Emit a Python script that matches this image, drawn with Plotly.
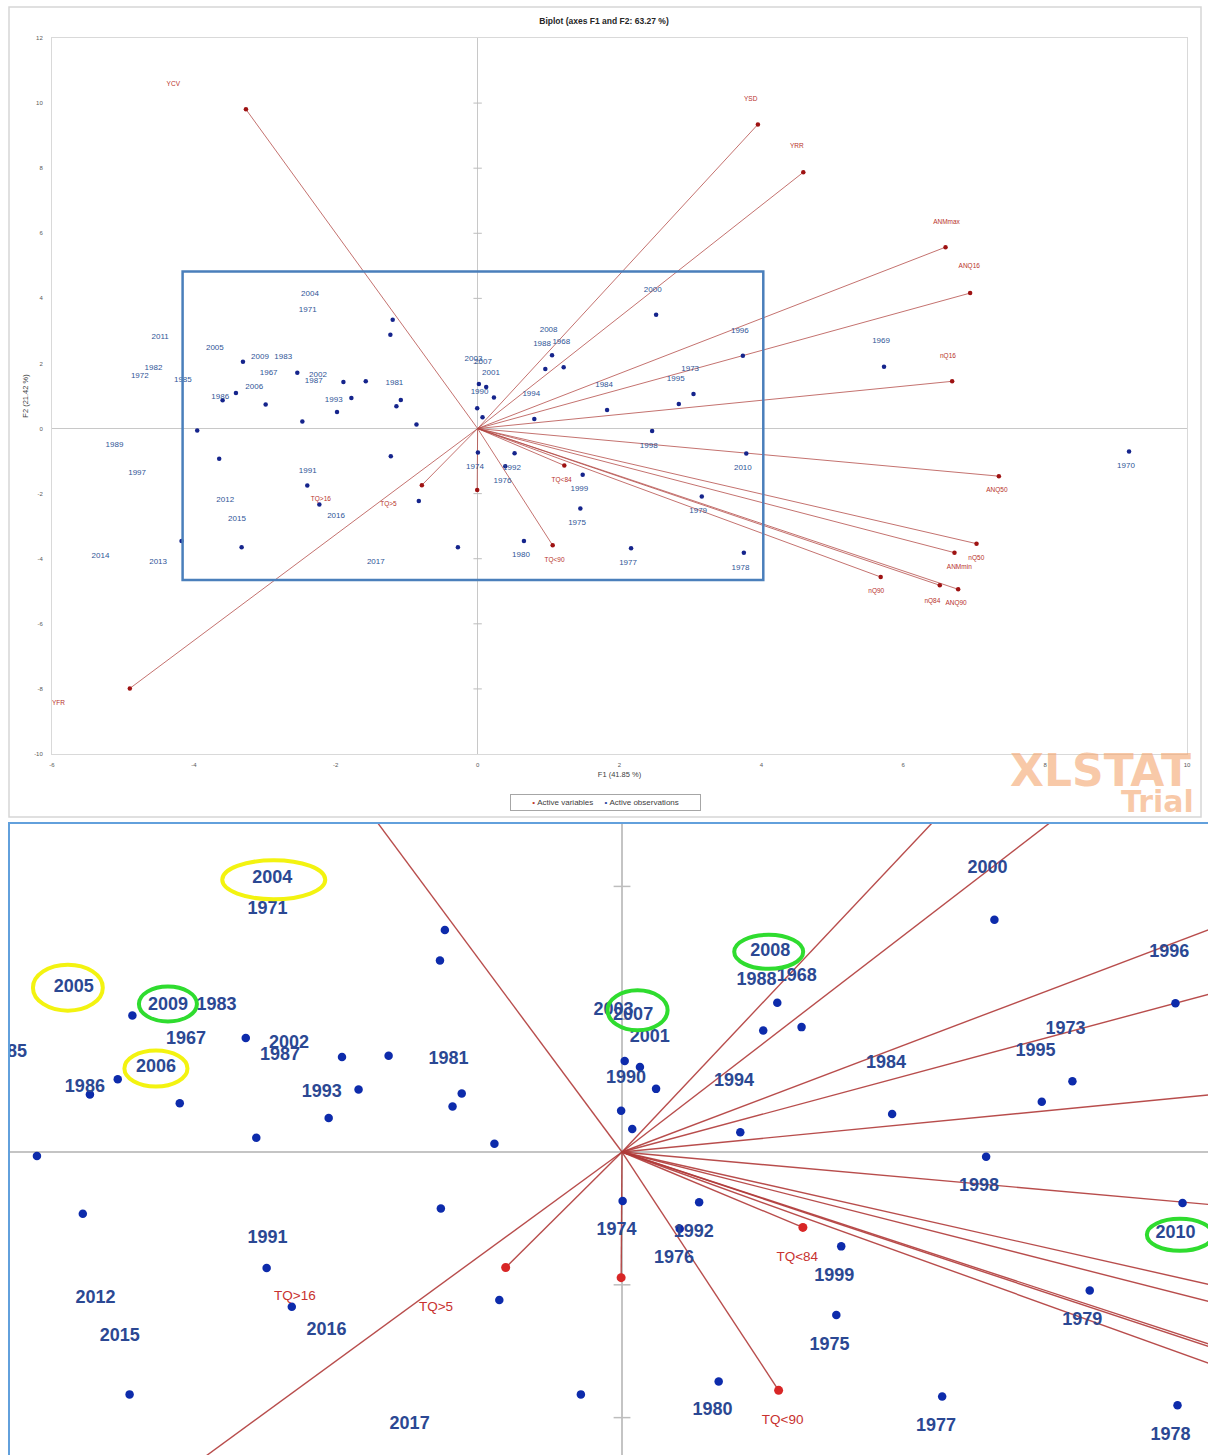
import plotly.graph_objects as go

W, H = 1208, 1455

# ---- Active observations: factor scores on F1 / F2 ----
obs_f1 = [-1.197, -1.230, -3.308, -2.542, -1.892, -1.577, -3.407, -3.595, -2.988, -1.083,
          -1.145, -1.780, -1.982, -2.471, -3.953, -3.643, -1.224, -2.401, -2.231, -4.174,
          -3.327, -0.862, 0.018, 0.121, 0.230, -0.006, 0.069, 1.049, 0.954, 1.213,
          2.516, 3.739, 3.043, 2.836, 1.825, 0.799, 2.460, 3.787, 0.004, 0.521,
          0.390, 1.481, 1.448, 3.160, -0.829, 0.653, -0.278, 2.163, 3.753, 5.729, 9.183]
obs_f2 = [3.344, 2.883, 2.055, 1.718, 1.432, 1.451, 1.095, 0.868, 0.736, 0.880,
          0.684, 0.941, 0.511, 0.215, -0.061, -0.930, -0.849, -1.748, -2.331, -3.456,
          -3.650, 0.123, 1.371, 1.279, 0.951, 0.623, 0.347, 2.249, 1.830, 1.881,
          3.497, 2.239, 1.064, 0.757, 0.573, 0.297, -0.072, -0.767, -0.736, -0.757,
          -1.156, -1.421, -2.454, -2.086, -2.229, -3.456, -3.650, -3.681, -3.813, 1.902, -0.706]

# ---- Observation labels (years) and where each label sits on the plane ----
years = [str(y) for y in range(1967, 2018)]
year_f1 = [-2.946, 1.180, 5.687, 9.140, -2.395, -4.762, 2.996, -0.038, 1.402, 0.351,
           2.121, 3.706, 3.109, 0.611, -1.173, -4.569, -2.740, 1.783, -4.155, -3.629,
           -2.311, 0.908, -5.119, 0.027, -2.395, 0.484, -2.028, 0.757, 2.793, 3.697,
           -4.800, 2.412, 1.434, 2.469, 0.188, -2.250, -0.058, -2.363, -3.704, -3.149,
           0.075, 1.001, -3.068, 3.739, -4.476, -3.558, -4.504, -5.317, -3.393, -1.996, -1.435]
year_f2 = [1.696, 2.647, 2.678, -1.156, 3.650, 1.626, 1.840, -1.187, -2.914, -1.604,
           -4.141, -4.273, -2.537, -3.896, 1.390, 1.850, 2.209, 1.340, 1.494, 0.972,
           1.451, 2.586, -0.500, 1.113, -1.298, -1.218, 0.890, 1.064, 1.512, 3.006,
           -1.380, -0.521, -1.871, 4.264, 1.718, 1.635, 2.138, 4.120, 2.475, 1.279,
           2.055, 3.015, 2.209, -1.227, 2.822, -2.209, -4.110, -3.905, -2.782, -2.690, -4.110]

# ---- Active variables: loadings (vector tips) and their label positions ----
var_names = ["YCV", "YSD", "YRR", "ANMmax", "ANQ16", "nQ16", "ANQ50", "nQ50", "ANMmin",
             "nQ84", "ANQ90", "nQ90", "TQ<84", "TQ<90", "TQ>16", "TQ>5", "YFR"]
var_f1 = [-3.266, 3.951, 4.591, 6.596, 6.943, 6.689, 7.348, 7.033, 6.722,
          6.515, 6.774, 5.682, 1.222, 1.058, -0.006, -0.786, -4.903]
var_f2 = [9.807, 9.346, 7.874, 5.573, 4.162, 1.451, -1.463, -3.537, -3.814,
          -4.816, -4.939, -4.561, -1.135, -3.589, -1.892, -1.739, -7.985]
var_lab_f1 = [-4.29, 3.85, 4.50, 6.61, 6.93, 6.63, 7.32, 7.03, 6.79,
              6.41, 6.745, 5.62, 1.184, 1.085, -2.21, -1.257, -5.91]
var_lab_f2 = [10.57, 10.12, 8.66, 6.33, 4.98, 2.22, -1.90, -3.99, -4.28,
              -5.30, -5.38, -5.01, -1.585, -4.04, -2.18, -2.34, -8.45]

# ---- Axis ticks ----
x_ticks = list(range(-6, 11, 2))
y_ticks = list(range(-10, 13, 2))

# Zoom window (detail view shown underneath)
zoom_f1 = [-4.159, 4.027]
zoom_f2 = [-4.653, 4.825]

# Years circled in the detail view: (year, colour, half-width, half-height, dx, dy)
YELLOW, GREEN = "#f3f310", "#2fdc2f"
highlights = [("2004", YELLOW, 0.348, 0.294, 0.01, -0.02),
              ("2005", YELLOW, 0.236, 0.346, -0.04, 0.0),
              ("2006", YELLOW, 0.213, 0.271, 0.0, -0.02),
              ("2009", GREEN, 0.196, 0.264, 0.0, 0.02),
              ("2007", GREEN, 0.203, 0.301, 0.03, 0.08),
              ("2008", GREEN, 0.233, 0.256, -0.01, 0.0),
              ("2010", GREEN, 0.223, 0.241, 0.03, -0.02)]

FONT = "Liberation Sans"
VAR_COL = "#c0392b"
OBS_COL = "#1f3a9a"


def esc(s):
    return s.replace("<", "&lt;").replace(">", "&gt;")


def vector_xy():
    xs, ys = [], []
    for a, b in zip(var_f1, var_f2):
        xs += [0, a, None]
        ys += [0, b, None]
    return xs, ys


vx, vy = vector_xy()
fig = go.Figure()


def add_panel(xa, ya, s):
    """Draw the biplot layers on one pair of axes; s holds the sizes."""
    clip = s["clip"]
    fig.add_trace(go.Scatter(x=vx, y=vy, mode="lines", xaxis=xa, yaxis=ya,
                             line=dict(color=s["vec_col"], width=s["vec_w"]),
                             hoverinfo="skip", showlegend=False))
    # small tick marks on the vertical axis
    ticks = list(s["axis_ticks"])
    fig.add_trace(go.Scatter(x=[0] * len(ticks), y=ticks, mode="markers", xaxis=xa, yaxis=ya,
                             marker=dict(symbol="line-ew", size=s["tick_len"],
                                         line=dict(color="#bdbdbd", width=s["tick_w"])),
                             hoverinfo="skip", showlegend=False, cliponaxis=clip))
    fig.add_trace(go.Scatter(x=var_f1, y=var_f2, mode="markers", xaxis=xa, yaxis=ya,
                             marker=dict(color=s["var_dot"], size=s["var_size"]),
                             hoverinfo="skip", showlegend=False, cliponaxis=clip))
    fig.add_trace(go.Scatter(x=obs_f1, y=obs_f2, mode="markers", xaxis=xa, yaxis=ya,
                             marker=dict(color=s["obs_dot"], size=s["obs_size"]),
                             hoverinfo="skip", showlegend=False, cliponaxis=clip))
    fig.add_trace(go.Scatter(x=var_lab_f1, y=var_lab_f2, mode="text", xaxis=xa, yaxis=ya,
                             text=[esc(n) for n in var_names], textposition="middle center",
                             textfont=dict(family=FONT, size=s["var_font"], color=s["var_txt"]),
                             hoverinfo="skip", showlegend=False, cliponaxis=clip))
    fig.add_trace(go.Scatter(x=year_f1, y=year_f2, mode="text", xaxis=xa, yaxis=ya,
                             text=years, textposition="middle center",
                             textfont=dict(family=FONT, size=s["year_font"], color=s["year_txt"],
                                           weight=s["year_weight"]),
                             hoverinfo="skip", showlegend=False, cliponaxis=clip))


add_panel("x", "y", dict(clip=False, vec_col="rgba(178,70,66,0.85)", vec_w=0.9,
                         axis_ticks=[v for v in y_ticks if v not in (0, -10, 12)],
                         tick_len=6, tick_w=1,
                         var_dot="#9e1212", var_size=4.5, obs_dot="#15248c", obs_size=4.5,
                         var_font=6.5, var_txt="#b8322a", year_font=8, year_txt="#2f5597",
                         year_weight="normal"))
add_panel("x2", "y2", dict(clip=True, vec_col="rgba(176,58,56,0.9)", vec_w=1.4,
                           axis_ticks=[-4, -2, 2, 4], tick_len=12, tick_w=1.5,
                           var_dot="#d82626", var_size=9, obs_dot="#0d2bab", obs_size=8.5,
                           var_font=13.5, var_txt="#c8322f", year_font=18, year_txt="#2b4893",
                           year_weight="bold"))

shapes = []
# outer frame of the biplot chart
shapes.append(dict(type="rect", xref="paper", yref="paper",
                   x0=9 / W, x1=1201 / W, y0=1 - 817 / H, y1=1 - 7 / H,
                   line=dict(color="#d6d6d6", width=1.5), layer="below"))
# frame of the detail view
shapes.append(dict(type="rect", xref="paper", yref="paper",
                   x0=9 / W, x1=1.02, y0=-0.02, y1=1 - 823 / H,
                   line=dict(color="#62a0dc", width=2), layer="above"))
# zoom window on the biplot
shapes.append(dict(type="rect", xref="x", yref="y",
                   x0=zoom_f1[0], x1=zoom_f1[1], y0=zoom_f2[0], y1=zoom_f2[1],
                   line=dict(color="#4a7fbb", width=2.5), layer="above"))
# highlight rings around selected years in the detail view
for yr, col, hw, hh, dx, dy in highlights:
    i = years.index(yr)
    cx, cy = year_f1[i] + dx, year_f2[i] + dy
    shapes.append(dict(type="circle", xref="x2", yref="y2",
                       x0=cx - hw, x1=cx + hw, y0=cy - hh, y1=cy + hh,
                       line=dict(color=col, width=4), layer="above"))

legend_text = (f"<span style='color:{VAR_COL}'>•</span>&nbsp;Active variables"
               f"&nbsp;&nbsp;&nbsp;&nbsp;&nbsp;<span style='color:{OBS_COL}'>•</span>"
               f"&nbsp;Active observations")

annotations = [
    # legend box
    dict(text=legend_text, xref="paper", yref="paper", x=605 / W, y=1 - 802 / H,
         xanchor="center", yanchor="middle", showarrow=False, width=183, align="center",
         bordercolor="#a6a6a6", borderwidth=1, borderpad=3, bgcolor="white",
         font=dict(family=FONT, size=8, color="#404040")),
    # trial watermark
    dict(text="<b>XLSTAT</b>", xref="paper", yref="paper", x=1100 / W, y=1 - 770 / H,
         xanchor="center", yanchor="middle", showarrow=False,
         font=dict(family="DejaVu Sans", size=44, color="rgba(244,165,110,0.6)")),
    dict(text="<b>Trial</b>", xref="paper", yref="paper", x=1196 / W, y=1 - 801 / H,
         xanchor="right", yanchor="middle", showarrow=False,
         font=dict(family="DejaVu Sans", size=30, color="rgba(244,165,110,0.6)")),
]

axis_common = dict(showgrid=False, ticks="", automargin=False)

fig.update_layout(
    width=W, height=H, margin=dict(l=0, r=0, t=0, b=0),
    paper_bgcolor="white", plot_bgcolor="white", showlegend=False,
    title=dict(text="<b>Biplot (axes F1 and F2: 63.27 %)</b>", x=0.5, xanchor="center",
               y=1 - 21 / H, yanchor="middle",
               font=dict(family=FONT, size=8.5, color="#262626")),
    xaxis=dict(domain=[52 / W, 1187 / W], range=[-6, 10], anchor="y",
               tickmode="array", tickvals=x_ticks, ticktext=[str(v) for v in x_ticks],
               tickfont=dict(family=FONT, size=6, color="#595959"), ticklabelstandoff=5,
               zeroline=True, zerolinecolor="#c8c8c8", zerolinewidth=1,
               showline=True, mirror=True, linecolor="#d9d9d9", linewidth=1,
               title=dict(text="F1 (41.85 %)", standoff=4,
                          font=dict(family=FONT, size=7.5, color="#404040")),
               **axis_common),
    yaxis=dict(domain=[1 - 754 / H, 1 - 38 / H], range=[-10, 12], anchor="x",
               tickmode="array", tickvals=y_ticks, ticktext=[str(v) for v in y_ticks],
               tickfont=dict(family=FONT, size=6, color="#595959"), ticklabelstandoff=7,
               zeroline=True, zerolinecolor="#c8c8c8", zerolinewidth=1,
               showline=True, mirror=True, linecolor="#d9d9d9", linewidth=1,
               title=dict(text="F2 (21.42 %)", standoff=4,
                          font=dict(family=FONT, size=7.5, color="#404040")),
               **axis_common),
    xaxis2=dict(domain=[10 / W, 1], range=[-4.135, 3.959], anchor="y2",
                showticklabels=False, zeroline=True, zerolinecolor="#c4c4c4",
                zerolinewidth=1.5, showline=False, **axis_common),
    yaxis2=dict(domain=[0, 1 - 823 / H], range=[-4.563, 4.955], anchor="x2",
                showticklabels=False, zeroline=True, zerolinecolor="#c4c4c4",
                zerolinewidth=1.5, showline=False, **axis_common),
    shapes=shapes,
    annotations=annotations,
)

fig.write_html("out.html")
